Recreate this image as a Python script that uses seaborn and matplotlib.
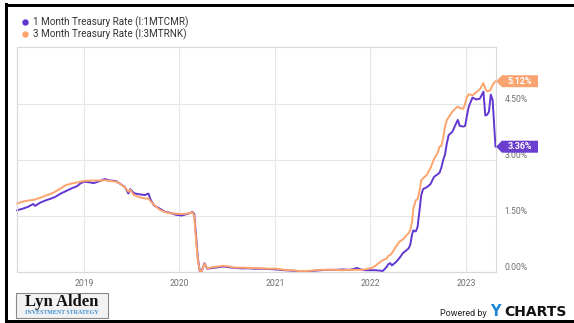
import matplotlib
matplotlib.use("Agg")
import matplotlib.pyplot as plt
import matplotlib.dates as mdates
from matplotlib.patches import Polygon, Rectangle
from matplotlib.lines import Line2D
import seaborn as sns
import pandas as pd

# Weekly-ish observations of the two Treasury bill rates (percent)
dates = [
    "2018-04-20", "2018-05-10", "2018-05-31", "2018-06-21", "2018-06-28", "2018-07-19",
    "2018-08-09", "2018-08-30", "2018-09-13", "2018-10-04", "2018-10-25", "2018-11-15",
    "2018-12-06", "2018-12-20", "2019-01-03", "2019-01-24", "2019-02-07", "2019-02-28",
    "2019-03-21", "2019-04-11", "2019-05-02", "2019-05-16", "2019-06-06", "2019-06-20",
    "2019-06-27", "2019-07-11", "2019-08-01", "2019-08-22", "2019-09-05", "2019-09-12",
    "2019-09-26", "2019-10-17", "2019-11-07", "2019-11-28", "2019-12-19", "2020-01-09",
    "2020-01-30", "2020-02-13", "2020-02-20", "2020-02-27", "2020-03-05", "2020-03-12",
    "2020-03-19", "2020-03-26", "2020-04-06", "2020-04-16", "2020-05-07", "2020-05-28",
    "2020-06-18", "2020-07-09", "2020-07-30", "2020-08-27", "2020-09-24", "2020-10-15",
    "2020-11-12", "2020-12-10", "2021-01-07", "2021-02-04", "2021-03-04", "2021-04-01",
    "2021-04-29", "2021-05-27", "2021-06-24", "2021-07-22", "2021-08-19", "2021-09-16",
    "2021-10-14", "2021-11-11", "2021-11-25", "2021-12-09", "2021-12-23", "2022-01-06",
    "2022-01-20", "2022-02-03", "2022-02-17", "2022-03-03", "2022-03-10", "2022-03-17",
    "2022-03-24", "2022-04-07", "2022-04-21", "2022-05-05", "2022-05-19", "2022-05-26",
    "2022-06-02", "2022-06-09", "2022-06-14", "2022-06-23", "2022-06-30", "2022-07-07",
    "2022-07-14", "2022-07-21", "2022-08-04", "2022-08-18", "2022-09-01", "2022-09-15",
    "2022-09-22", "2022-09-29", "2022-10-06", "2022-10-13", "2022-10-20", "2022-10-27",
    "2022-11-10", "2022-11-24", "2022-12-01", "2022-12-08", "2022-12-22", "2022-12-29",
    "2023-01-05", "2023-01-12", "2023-01-26", "2023-02-09", "2023-02-23", "2023-03-09",
    "2023-03-16", "2023-03-23", "2023-03-30", "2023-04-06", "2023-04-13", "2023-04-24",
]

rate_3m = [
    1.83, 1.88, 1.91, 1.93, 1.94, 1.99,
    2.05, 2.10, 2.15, 2.24, 2.33, 2.37,
    2.40, 2.42, 2.44, 2.45, 2.45, 2.45,
    2.46, 2.44, 2.42, 2.38, 2.27, 2.15,
    2.20, 2.06, 2.00, 1.97, 1.96, 1.90,
    1.80, 1.67, 1.60, 1.57, 1.56, 1.55,
    1.56, 1.58, 1.60, 1.50, 0.85, 0.30,
    0.03, 0.00, 0.22, 0.09, 0.12, 0.14,
    0.16, 0.14, 0.11, 0.11, 0.10, 0.10,
    0.09, 0.08, 0.08, 0.05, 0.04, 0.02,
    0.02, 0.03, 0.05, 0.05, 0.05, 0.04,
    0.05, 0.05, 0.05, 0.06, 0.08, 0.10,
    0.16, 0.24, 0.31, 0.35, 0.42, 0.45,
    0.50, 0.66, 0.80, 0.87, 0.98, 1.03,
    1.12, 1.34, 1.70, 1.92, 1.95, 2.15,
    2.45, 2.51, 2.60, 2.78, 3.03, 3.20,
    3.36, 3.38, 3.60, 3.90, 4.08, 4.15,
    4.30, 4.40, 4.44, 4.40, 4.38, 4.52,
    4.70, 4.77, 4.74, 4.82, 4.90, 5.07,
    4.92, 4.85, 4.86, 4.90, 5.02, 5.12,
]

rate_1m = [
    1.65, 1.69, 1.74, 1.82, 1.77, 1.86,
    1.92, 1.97, 2.01, 2.10, 2.17, 2.24,
    2.30, 2.38, 2.42, 2.40, 2.38, 2.43,
    2.49, 2.45, 2.44, 2.38, 2.28, 2.10,
    2.22, 2.11, 2.08, 2.06, 2.10, 1.95,
    1.78, 1.70, 1.61, 1.58, 1.53, 1.51,
    1.55, 1.58, 1.61, 1.55, 0.95, 0.35,
    0.02, 0.00, 0.23, 0.08, 0.10, 0.12,
    0.14, 0.12, 0.10, 0.09, 0.09, 0.08,
    0.08, 0.07, 0.06, 0.04, 0.03, 0.01,
    0.01, 0.02, 0.04, 0.05, 0.05, 0.06,
    0.05, 0.10, 0.06, 0.04, 0.04, 0.04,
    0.04, 0.03, 0.02, 0.12, 0.20, 0.23,
    0.17, 0.25, 0.36, 0.50, 0.58, 0.62,
    0.72, 1.00, 1.11, 1.08, 1.20, 1.62,
    2.05, 2.22, 2.27, 2.35, 2.55, 2.62,
    2.66, 2.80, 3.00, 3.15, 3.45, 3.67,
    3.76, 3.98, 4.08, 3.92, 3.90, 3.92,
    4.20, 4.44, 4.68, 4.63, 4.65, 4.84,
    4.20, 4.22, 4.30, 4.76, 4.62, 3.36,
]

series_names = ["1 Month Treasury Rate (I:1MTCMR)", "3 Month Treasury Rate (I:3MTRNK)"]
series_colors = ["#6236d1", "#fda46c"]
y_ticks = [0.0, 1.5, 3.0, 4.5]
y_tick_labels = ["0.00%", "1.50%", "3.00%", "4.50%"]

W, H = 574, 323

sns.set_style("white")
plt.rcParams["font.family"] = ["Roboto", "DejaVu Sans"]

df = pd.concat([
    pd.DataFrame({"date": pd.to_datetime(dates), "rate": rate_1m, "series": series_names[0]}),
    pd.DataFrame({"date": pd.to_datetime(dates), "rate": rate_3m, "series": series_names[1]}),
])

fig = plt.figure(figsize=(W / 100, H / 100), dpi=100)
ax = fig.add_axes([17 / W, (H - 271.7) / H, (496 - 17) / W, (271.7 - 47) / H])

sns.lineplot(data=df, x="date", y="rate", hue="series", hue_order=series_names,
             palette=series_colors, linewidth=1.4, legend=False, ax=ax)
for ln in ax.get_lines():
    ln.set_clip_on(False)

ax.set_xlim(pd.Timestamp("2018-04-20"), pd.Timestamp("2023-04-26"))
ax.set_ylim(0, 6.04)
ax.set_xlabel("")
ax.set_ylabel("")

ax.xaxis.set_major_locator(mdates.YearLocator())
ax.xaxis.set_major_formatter(mdates.DateFormatter("%Y"))
ax.set_yticks(y_ticks)
ax.set_yticklabels(y_tick_labels)
ax.yaxis.tick_right()
ax.tick_params(axis="x", length=0, pad=5, labelsize=6.2, labelcolor="#707070")
ax.tick_params(axis="y", length=0, pad=6, labelsize=6.2, labelcolor="#707070")
for t in ax.get_yticklabels():
    t.set_verticalalignment("bottom")

ax.grid(True, color="#e6e6e6", linewidth=0.8)
for sp in ax.spines.values():
    sp.set_color("#d8d8d8")
    sp.set_linewidth(0.8)

# Legend: coloured dots with series names
for i, (name, col) in enumerate(zip(series_names, series_colors)):
    yy = 1 - (22.3 + 12 * i) / H
    fig.add_artist(Line2D([25 / W], [yy], marker="o", markersize=3.6, color=col,
                          linestyle="none", transform=fig.transFigure))
    fig.text(33 / W, yy, name, fontsize=7.1, color="#333333", va="center", ha="left")

# Last-value badges at the right edge
def last_value_badge(value, color):
    y_disp = ax.transData.transform((0, value))[1]
    x_tip = ax.transAxes.transform((1, 0))[0]
    hh = 6.0
    pts = [(x_tip, y_disp), (x_tip + 6, y_disp + hh), (x_tip + 42, y_disp + hh),
           (x_tip + 42, y_disp - hh), (x_tip + 6, y_disp - hh)]
    pts = [(px / W, py / H) for px, py in pts]
    fig.add_artist(Polygon(pts, closed=True, facecolor=color, edgecolor="none",
                           transform=fig.transFigure, zorder=5))
    fig.text((x_tip + 24) / W, y_disp / H, f"{value:.2f}%", fontsize=6.4,
             fontweight="bold", color="white", ha="center", va="center", zorder=6)

last_value_badge(rate_3m[-1], "#f9a470")
last_value_badge(rate_1m[-1], "#6a3fcf")

# Frame lines around the panel
for (x0, y0, w, h) in [(4.5, 0, 3, H - 3), (4.5, H - 6.5, W - 4.5, 3), (4.5, 0.5, W - 4.5, 3)]:
    fig.add_artist(Rectangle((x0 / W, y0 / H), w / W, h / H, facecolor="black",
                             edgecolor="none", transform=fig.transFigure))

# Lyn Alden logo block
fig.add_artist(Rectangle((16 / W, (H - 317.5) / H), 92 / W, 25 / H, facecolor="#f2f2f2",
                         edgecolor="#8a8a8a", linewidth=0.8, transform=fig.transFigure))
fig.text(62 / W, 1 - 302 / H, "Lyn Alden", family=["Liberation Serif", "DejaVu Serif"],
         fontweight="bold", fontsize=12, color="#111111", ha="center", va="center")
fig.text(62 / W, 1 - 312.5 / H, "INVESTMENT STRATEGY", family=["Liberation Serif", "DejaVu Serif"],
         fontweight="bold", fontsize=4.3, color="#3c8fd3", ha="center", va="center")

# Powered by YCHARTS
fig.text(487 / W, 1 - 313 / H, "Powered by", fontsize=6.5, color="#222222", ha="right", va="center")
fig.text(490 / W, 1 - 312 / H, "Y", family=["DejaVu Sans"], fontweight="bold", fontsize=10.5,
         color="#1e88d8", ha="left", va="center")
fig.text(504 / W, 1 - 312 / H, "CHARTS", family=["DejaVu Sans"], fontweight="bold", fontsize=10,
         color="#111111", ha="left", va="center")

fig.savefig("out.png", dpi=100)
